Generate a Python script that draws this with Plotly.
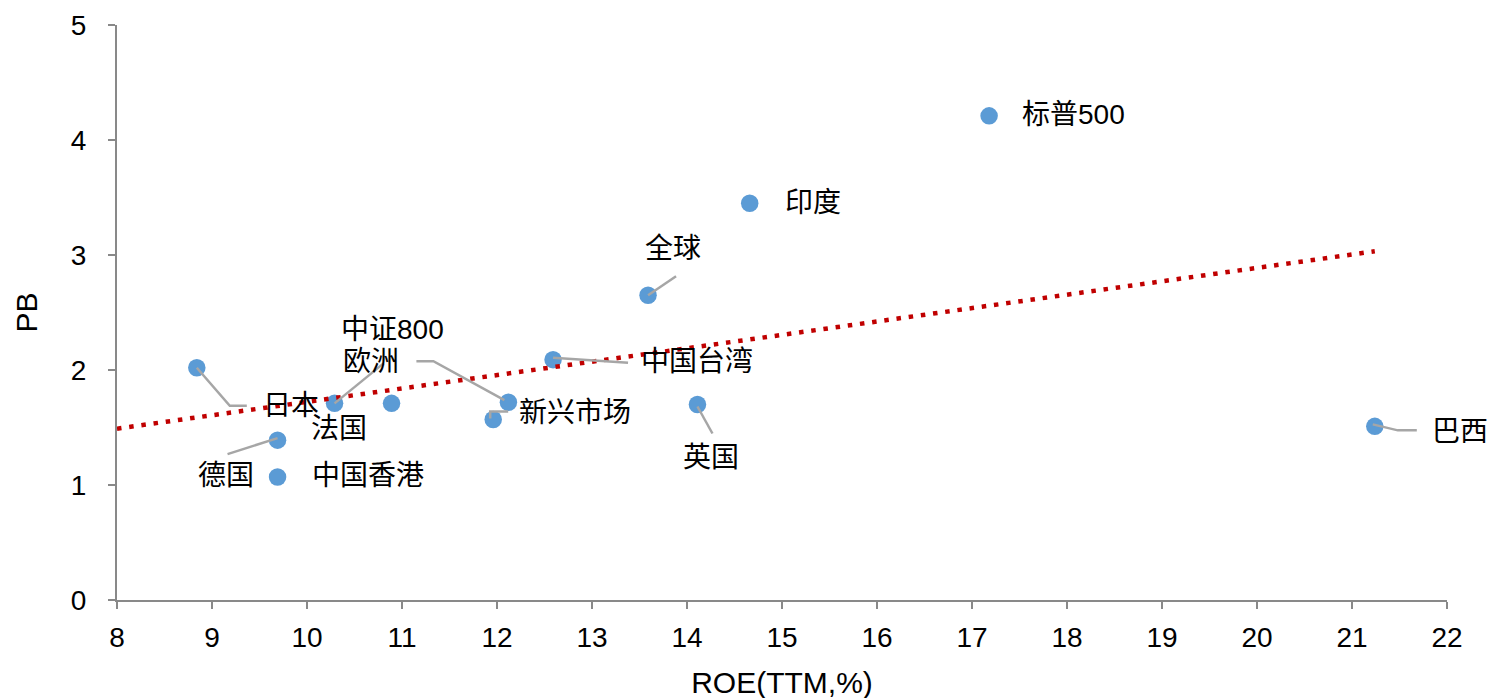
import plotly.graph_objects as go

# ---------------- data ----------------
markets = ["标普500", "印度", "全球", "中证800", "欧洲", "中国台湾", "日本",
           "法国", "德国", "中国香港", "新兴市场", "英国", "巴西"]
roe = [17.18, 14.66, 13.59, 10.29, 12.12, 12.59, 8.84,
       10.89, 9.69, 9.69, 11.96, 14.11, 21.24]
pb = [4.21, 3.45, 2.65, 1.71, 1.72, 2.09, 2.02,
      1.71, 1.39, 1.07, 1.57, 1.70, 1.51]
x_ticks = list(range(8, 23))
y_ticks = [0, 1, 2, 3, 4, 5]
# linear trendline as drawn in the reference (PB = a + b * ROE)
trend_intercept = 0.558
trend_slope = 0.1165

# ---------------- layout / style ----------------
W, H = 1495, 698
ML, MR, MT, MB = 109, 56, 17, 106
x_range = [8, 22]
y_range = [0, 5]
plot_w = W - ML - MR
plot_h = H - MT - MB
px_x = plot_w / (x_range[1] - x_range[0])
px_y = plot_h / (y_range[1] - y_range[0])

LATIN = "Liberation Sans, Arial, sans-serif"
LABEL_FONT = "Liberation Sans, Noto Sans CJK SC, sans-serif"
AXIS_COLOR = "#898989"
LEADER_COLOR = "#A6A6A6"
MARKER_COLOR = "#5B9BD5"
TREND_COLOR = "#C00000"

# label placement: (xanchor, dx px, dy px (screen, down +), leader path in px offsets)
label_style = {
    "标普500": ("left", 31, -1, None),
    "印度": ("left", 33, -1, None),
    "全球": ("center", 25, -47, [(0, 0), (28, -19)]),
    "中证800": ("center", 58, -74, [(0, 0), (49, -40)]),
    "欧洲": ("center", -137, -41, [(-92, -41), (-75, -41), (-4, -2)]),
    "中国台湾": ("left", 86, 2, [(0, -2), (75, 3)]),
    "日本": ("left", 64, 38, [(0, 0), (33, 38), (50, 38)]),
    "法国": ("center", -53, 25, None),
    "德国": ("center", -52, 35, [(-50, 14), (0, -2)]),
    "中国香港": ("left", 32, -1, None),
    "新兴市场": ("left", 24, -7, [(-3, -1), (-3, -8), (15, -8)]),
    "英国": ("center", 14, 53, [(0, 2), (15, 29)]),
    "巴西": ("left", 55, 5, [(-2, -2), (23, 4), (42, 4)]),
}

fig = go.Figure()

# scatter points
fig.add_trace(go.Scatter(
    x=roe, y=pb, mode="markers", text=markets,
    marker=dict(color=MARKER_COLOR, size=17.5, line=dict(width=0)),
    showlegend=False, hoverinfo="text+x+y",
))

# trendline
tx = [x_range[0], max(roe)]
ty = [trend_intercept + trend_slope * v for v in tx]
fig.add_trace(go.Scatter(
    x=tx, y=ty, mode="lines",
    line=dict(color=TREND_COLOR, width=4.5, dash="4.5px,7.8px"),
    showlegend=False, hoverinfo="skip",
))

# leader lines and labels
annotations = []
for name, xv, yv in zip(markets, roe, pb):
    anchor, dx, dy, path = label_style[name]
    if path:
        lx = [xv + p[0] / px_x for p in path]
        ly = [yv - p[1] / px_y for p in path]
        fig.add_trace(go.Scatter(
            x=lx, y=ly, mode="lines",
            line=dict(color=LEADER_COLOR, width=2.5),
            showlegend=False, hoverinfo="skip",
        ))
    annotations.append(dict(
        x=xv, y=yv, xref="x", yref="y", text=name, showarrow=False,
        xshift=dx, yshift=-dy, xanchor=anchor, yanchor="middle",
        font=dict(family=LABEL_FONT, size=28, color="#000000"),
    ))

fig.update_layout(
    width=W, height=H,
    margin=dict(l=ML, r=MR, t=MT, b=MB, autoexpand=False),
    paper_bgcolor="white", plot_bgcolor="white",
    annotations=annotations,
    xaxis=dict(
        range=x_range, tickmode="array", tickvals=x_ticks,
        ticktext=[str(v) for v in x_ticks],
        showgrid=False, zeroline=False, showline=True,
        linecolor=AXIS_COLOR, linewidth=2.3,
        ticks="outside", ticklen=7, tickwidth=2.3, tickcolor=AXIS_COLOR,
        ticklabelstandoff=4,
        tickfont=dict(family=LATIN, size=28, color="#000000"),
        title=dict(text="ROE(TTM,%)", font=dict(family=LATIN, size=30, color="#000000"),
                   standoff=20),
        fixedrange=True,
    ),
    yaxis=dict(
        range=y_range, tickmode="array", tickvals=y_ticks,
        ticktext=[str(v) for v in y_ticks],
        showgrid=False, zeroline=False, showline=True,
        linecolor=AXIS_COLOR, linewidth=2.3,
        ticks="outside", ticklen=7, tickwidth=2.3, tickcolor=AXIS_COLOR,
        ticklabelstandoff=16,
        tickfont=dict(family=LATIN, size=28, color="#000000"),
        title=dict(text="PB", font=dict(family=LATIN, size=30, color="#000000"),
                   standoff=24),
        fixedrange=True,
    ),
)

fig.write_html("out.html")
